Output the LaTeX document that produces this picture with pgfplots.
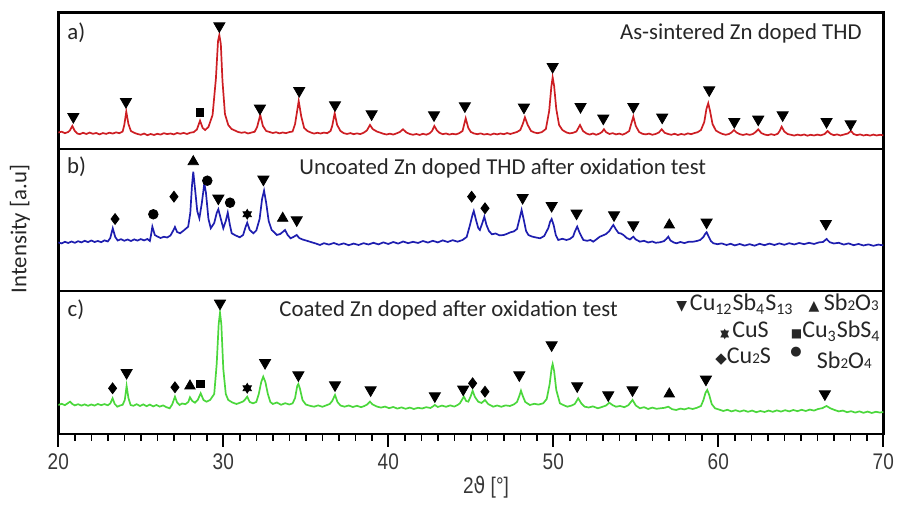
\documentclass[border=0pt]{standalone}
\usepackage{fontspec}
\usepackage{pgfplots}
\pgfplotsset{compat=1.18}
\setmainfont{Carlito}
\newfontfamily\tickfont[FakeStretch=0.84]{Liberation Sans}
\newfontfamily\dejavu{DejaVu Sans}
\newfontfamily\dejavucond[FakeStretch=0.84]{DejaVu Sans}
\definecolor{xred}{RGB}{205,30,35}
\definecolor{xblue}{RGB}{30,30,175}
\definecolor{xgreen}{RGB}{75,215,60}
\definecolor{ticklab}{RGB}{55,55,55}
\newcommand{\sm}[1]{{\fontsize{7.5}{8}\selectfont #1}}
\newcommand{\hexstar}{{\dejavu\fontsize{5.8}{6}\selectfont\rlap{\raisebox{0.7pt}{▲}}\raisebox{-0.7pt}{▼}}}
\pgfplotsset{
  panel/.style={scale only axis, width=412.5pt, xmin=20, xmax=70, ymin=0,
    anchor=south west, axis line style={line width=1.2pt}, ytick=\empty, xtick=\empty},
  tdown/.style={only marks, mark=triangle*, mark size=3.2pt, mark options={rotate=180, fill=black, draw=black}},
  tup/.style={only marks, mark=triangle*, mark size=3.0pt, mark options={fill=black, draw=black}},
  dia/.style={only marks, mark=diamond*, mark size=2.7pt, mark options={fill=black, draw=black}},
  circ/.style={only marks, mark=*, mark size=2.4pt, mark options={fill=black, draw=black}},
  sq/.style={only marks, mark=square*, mark size=1.9pt, mark options={fill=black, draw=black}},
  stA/.style={only marks, mark=triangle*, mark size=2.4pt, mark options={fill=black, draw=black}},
  stB/.style={only marks, mark=triangle*, mark size=2.4pt, mark options={rotate=180, fill=black, draw=black}},
}
\begin{document}
\begin{tikzpicture}
\path[use as bounding box] (0,0) rectangle (450pt,253pt);
% ---------- panel a ----------
\begin{axis}[panel, at={(29.15pt,178.5pt)}, height=68.15pt, ymax=136.3]
\addplot[xred, line width=0.85pt] table {
20.0 16.5
20.2 17.3
20.4 15.8
20.6 17.0
20.7 18.5
20.85 23
21.0 18.0
21.15 15.5
21.3 14.8
21.5 16.2
21.7 15.0
21.9 16.4
22.1 15.2
22.3 16.0
22.5 14.6
22.7 15.9
22.9 15.1
23.1 16.3
23.3 15.4
23.5 16.6
23.7 15.8
23.9 17.5
24.0 24
24.12 37.3
24.25 25
24.4 18
24.6 16.2
24.8 15.0
25.0 14.2
25.2 15.4
25.4 13.8
25.6 15.0
25.8 14.0
26.0 15.2
26.2 14.4
26.4 15.8
26.6 14.9
26.8 15.5
27.0 14.6
27.2 16.0
27.4 15.2
27.6 16.1
27.8 15.0
28.0 16.3
28.2 16.8
28.4 19.5
28.59 28.3
28.75 21
28.9 19
29.1 22
29.35 34
29.55 70
29.68 108
29.76 114
29.85 105
29.95 68
30.1 35
30.3 24
30.5 20
30.7 18.5
30.9 17.0
31.1 16.2
31.3 16.8
31.5 15.5
31.7 16.4
31.9 17.2
32.05 22
32.24 34
32.4 23
32.6 18
32.8 17.0
33.0 16.0
33.2 16.8
33.4 15.6
33.6 16.5
33.8 15.8
34.0 16.9
34.2 17.5
34.35 25
34.57 48
34.72 33
34.9 21
35.1 18
35.3 16.5
35.5 15.4
35.7 16.2
35.9 15.5
36.1 16.4
36.3 15.8
36.5 18
36.6 23
36.75 35.7
36.9 24
37.1 18
37.3 15.8
37.5 15.0
37.7 15.9
37.9 14.8
38.1 15.6
38.3 14.9
38.5 16.2
38.7 18.5
38.89 24
39.05 20
39.3 17.5
39.5 16.4
39.7 15.2
39.9 14.5
40.1 15.3
40.3 14.4
40.5 15.6
40.7 17.0
40.89 19.7
41.1 16.5
41.3 15.0
41.5 14.2
41.7 15.0
41.9 14.0
42.1 15.2
42.3 14.3
42.5 15.6
42.65 18
42.79 23
42.95 18.5
43.1 16.2
43.3 14.8
43.5 15.5
43.7 14.4
43.9 15.2
44.1 14.6
44.3 15.8
44.5 18
44.69 30.7
44.85 21
45.0 17
45.2 15.5
45.4 14.8
45.6 15.6
45.8 14.5
46.0 15.0
46.2 14.2
46.4 15.4
46.6 14.6
46.8 15.5
47.0 14.8
47.2 15.9
47.4 15.0
47.6 16.0
47.8 17.0
48.0 19
48.15 25
48.28 31.7
48.45 24
48.65 18
48.85 16.5
49.05 15.8
49.3 16.8
49.55 20
49.75 38
49.88 62
49.96 71.7
50.05 63
50.18 40
50.35 24
50.55 19
50.8 16.5
51.0 15.6
51.2 16.2
51.4 17.5
51.62 24
51.8 18
52.0 15.6
52.2 14.4
52.4 15.5
52.6 14.2
52.8 15.4
52.95 17
53.07 19.7
53.2 16.8
53.4 15.0
53.6 15.8
53.8 14.6
54.0 15.4
54.2 14.3
54.4 15.8
54.6 18
54.72 25
54.85 32.3
55.0 23
55.2 17
55.4 15.2
55.6 14.6
55.8 15.4
56.0 14.2
56.2 15.0
56.4 16.5
56.57 19.7
56.75 16.2
56.95 15.0
57.15 14.2
57.35 15.2
57.55 14.0
57.75 15.0
57.95 14.3
58.15 15.6
58.35 14.8
58.55 15.9
58.75 16.8
58.95 19
59.15 27
59.28 40
59.39 45.7
59.5 38
59.65 25
59.85 18.5
60.05 16.5
60.25 15.0
60.45 14.2
60.65 15.0
60.8 16.5
60.95 19
61.1 16.5
61.3 14.8
61.5 14.0
61.7 14.9
61.9 14.1
62.1 15.0
62.25 16.8
62.42 19.7
62.6 16.0
62.8 14.5
63.0 13.8
63.2 14.8
63.4 14.0
63.6 15.2
63.72 18
63.84 22.3
64.0 17.5
64.2 15.0
64.4 14.2
64.6 13.4
64.8 14.4
65.0 13.6
65.2 14.5
65.4 13.3
65.6 14.2
65.8 13.5
66.0 14.4
66.2 13.6
66.45 15.0
66.62 18
66.8 15.2
67.0 13.8
67.2 14.6
67.4 13.5
67.6 14.4
67.85 15.5
68.04 18
68.2 15.0
68.4 13.8
68.6 14.6
68.8 13.5
69.0 14.2
69.2 13.4
69.4 14.4
69.6 13.5
69.8 14.2
70.0 13.6
};
\addplot[tdown] coordinates {(20.91,32.3) (24.1,47.3) (29.76,123) (32.22,40.7) (34.6,58.3) (36.77,44) (38.99,35) (42.77,34) (44.64,43) (48.22,41.7) (49.96,82.3) (51.65,42.3) (53.03,30.7) (54.85,42.3) (56.6,31.7) (59.45,59) (60.97,27.3) (62.42,29.7) (63.9,34) (66.56,27.3) (68.02,25)};
\addplot[sq] coordinates {(28.59,36.3)};
\end{axis}
% ---------- panel b ----------
\begin{axis}[panel, at={(29.15pt,107.5pt)}, height=71pt, ymax=142]
\addplot[xblue, line width=0.85pt] table {
20.0 48.5
20.2 47.6
20.4 49.2
20.6 48.0
20.8 49.5
21.0 48.2
21.2 49.8
21.4 48.6
21.6 50.2
21.8 48.9
22.0 50.5
22.2 49.0
22.4 50.0
22.6 48.8
22.8 50.6
23.0 49.5
23.15 53
23.3 62.7
23.45 54
23.6 50.5
23.8 51.8
24.0 50.2
24.2 51.5
24.4 50.0
24.6 51.6
24.8 50.4
25.0 51.9
25.2 50.6
25.4 52.0
25.55 50.0
25.62 56
25.7 64.3
25.85 56
26.0 54.5
26.2 53.0
26.4 54.2
26.6 53.5
26.8 55.5
26.95 60
27.07 64
27.2 59
27.38 57.7
27.6 60.5
27.87 64.3
28.0 78
28.1 105
28.18 119.3
28.3 100
28.42 80
28.55 72.7
28.7 88
28.85 107.7
28.95 98
29.1 72
29.24 62.7
29.45 68
29.6 78
29.7 81.7
29.82 74
30.0 62.7
30.15 70
30.27 78.3
30.4 66
30.51 57.7
30.75 55.5
31.0 53.7
31.2 56
31.35 64
31.45 68.3
31.6 61
31.82 57.7
32.0 60.5
32.2 72
32.35 92
32.47 100.3
32.6 88
32.75 70
32.93 61
33.1 58.5
33.24 56
33.45 57
33.6 59
33.74 61
33.9 56
34.08 52.7
34.25 54
34.45 56
34.6 53
34.8 51.5
35.05 50.3
35.3 49.0
35.6 47.5
35.86 46.0
36.1 47.8
36.4 46.4
36.7 48.0
37.0 46.2
37.3 47.6
37.6 45.8
37.9 47.4
38.2 46.0
38.5 47.8
38.8 46.5
39.1 48.2
39.4 46.6
39.7 48.6
40.0 47.0
40.3 49.0
40.6 47.4
40.9 49.5
41.2 47.8
41.5 49.2
41.8 48.0
42.1 50.0
42.4 48.4
42.7 50.2
43.0 48.6
43.3 50.6
43.6 49.0
43.9 50.8
44.2 49.3
44.5 51.0
44.75 54
44.95 66
45.1 76
45.18 80
45.3 72
45.45 63
45.55 61
45.7 68
45.82 74.3
45.95 66
46.1 60
46.28 56.7
46.5 57.5
46.75 55.6
47.0 56.0
47.2 57.2
47.4 58.7
47.6 59.5
47.8 62
47.95 72
48.08 81
48.2 72
48.35 60
48.49 56
48.7 54.5
48.95 53.5
49.2 52.7
49.45 55
49.7 63
49.8 69
49.9 72
50.02 66
50.15 56
50.3 51
50.55 52.2
50.8 51.0
51.0 52.0
51.2 54.5
51.32 60
51.45 64.3
51.6 58
51.82 51
52.05 50.2
52.25 51.0
52.42 49.3
52.6 51.5
52.82 54.3
53.0 55.5
53.2 57
53.4 60
53.55 64
53.64 66
53.78 62
53.95 58
54.1 57.5
54.25 56
54.45 53
54.65 51.5
54.75 53
54.85 54.3
55.0 51.5
55.25 49.3
55.5 50.2
55.75 48.5
56.0 49.5
56.2 48.2
56.46 48.7
56.7 49.8
56.85 52
56.97 54.3
57.1 50.5
57.3 48.5
57.47 47.7
57.7 49.0
57.95 47.9
58.2 49.2
58.48 49.3
58.7 50.0
58.9 51.0
59.1 54
59.2 57
59.29 58.7
59.4 55
59.55 50
59.7 47.7
59.95 46.8
60.2 47.6
60.5 46.0
60.75 47.2
61.0 45.6
61.3 47.0
61.6 45.4
61.9 46.8
62.2 45.3
62.5 47.2
62.8 45.8
63.1 47.4
63.4 46.0
63.7 47.6
64.0 46.2
64.3 47.8
64.6 46.5
64.9 48.0
65.2 46.8
65.5 48.2
65.8 47.0
66.1 48.6
66.35 49.0
66.56 52.0
66.75 48.8
67.0 47.5
67.3 48.2
67.6 46.4
67.9 47.6
68.2 45.8
68.5 47.0
68.8 45.5
69.1 46.6
69.4 45.2
69.7 46.4
70.0 45.6
};
\addplot[dia] coordinates {(23.44,72) (27.01,94.3) (45.05,94.3) (45.86,82.7)};
\addplot[circ] coordinates {(25.76,76.7) (29.03,110.3) (30.41,88.3)};
\addplot[tup] coordinates {(28.18,129.3) (33.6,72.7) (57.03,66)};
\addplot[tdown] coordinates {(29.7,92.7) (32.43,111.7) (34.45,71) (48.14,93.3) (49.9,85.3) (51.41,77.7) (53.68,76) (54.85,66) (59.29,68.7) (66.52,67.3)};
\addplot[stA] coordinates {(31.45,76.7)};
\addplot[stB] coordinates {(31.45,76.7)};
\end{axis}
% ---------- panel c ----------
\begin{axis}[panel, at={(29.15pt,36pt)}, height=71.5pt, ymax=143,
  xtick={20,30,...,70}, minor x tick num=9, xtick pos=left, tick align=outside,
  major tick length=6.3pt, minor tick length=3.5pt,
  every tick/.style={black, line width=1pt},
  minor tick style={black, line width=0.8pt},
  /pgf/number format/assume math mode=true,
  xticklabel style={font=\tickfont\fontsize{11.3}{13}\selectfont, text=ticklab}]
\addplot[xgreen, line width=0.85pt] table {
20.0 29.0
20.2 30.2
20.4 28.8
20.55 30.5
20.71 32.3
20.85 30.0
21.0 28.6
21.2 29.8
21.4 28.4
21.6 29.6
21.8 28.2
22.0 29.5
22.2 28.4
22.4 30.0
22.6 28.8
22.8 29.9
23.0 28.7
23.15 30.5
23.29 35.7
23.42 30.0
23.58 27.3
23.75 28.5
23.9 29.2
24.03 34
24.14 48
24.25 36
24.38 29
24.55 28.2
24.75 29.8
24.95 28.0
25.15 29.6
25.35 27.8
25.55 29.4
25.75 27.6
25.95 29.0
26.15 27.4
26.35 28.6
26.55 26.8
26.75 25.7
26.9 29.5
27.07 37.3
27.2 31.5
27.35 29
27.5 30.5
27.7 29.8
27.88 32
27.98 36.7
28.12 33
28.28 31.3
28.45 34
28.63 40.7
28.8 34
28.98 32.3
29.2 34
29.45 40
29.6 70
29.72 110
29.8 121.3
29.88 110
30.0 65
30.15 40
30.3 34
30.55 31.5
30.8 30.0
31.0 31.2
31.2 32.5
31.32 34.5
31.45 37.3
31.6 32
31.8 30.7
32.0 32
32.15 40
32.3 52
32.42 57.3
32.55 52
32.7 40
32.85 32
33.0 30
33.25 31.5
33.5 29.2
33.75 30.8
34.0 29.5
34.2 30.6
34.35 36
34.48 48
34.55 50
34.65 45
34.8 34
35.0 29.5
35.25 28.2
35.5 27.3
35.75 28.6
36.0 27.2
36.2 28.4
36.45 30
36.6 33
36.77 39
36.92 32
37.1 28.5
37.35 27.3
37.6 28.5
37.85 27.0
38.1 28.2
38.35 26.8
38.55 28.0
38.72 29.5
38.89 32.3
39.05 29.5
39.3 27.5
39.55 26.4
39.8 27.4
40.05 25.8
40.3 27.0
40.55 25.4
40.8 26.6
41.05 25.2
41.3 26.4
41.55 25.0
41.8 26.2
42.05 25.5
42.3 26.8
42.55 26.0
42.7 27.5
42.82 29
43.0 27.0
43.25 28.4
43.5 27.2
43.75 28.6
44.0 27.4
44.2 29.0
44.34 30.7
44.46 34
44.58 37.3
44.72 33
44.85 32.3
45.0 38
45.11 43.3
45.25 37
45.45 32.3
45.65 31
45.86 34
46.05 30
46.36 27.3
46.6 28.5
46.85 27.2
47.1 28.6
47.37 28.0
47.6 29.5
47.8 32
47.94 38
48.04 43.3
48.15 38
48.3 32
48.58 29.0
48.85 30.2
49.1 29.4
49.39 30.7
49.6 35
49.78 50
49.9 66
49.96 70
50.05 63
50.18 44
50.4 30.7
50.6 29.0
50.85 27.3
51.1 28.4
51.3 30
51.51 35.7
51.7 30.5
51.9 27.3
52.15 26.5
52.4 27.6
52.7 25.7
52.95 27.0
53.2 28.5
53.39 31.3
53.6 28.8
53.8 27.3
54.05 28.0
54.3 26.8
54.55 28.8
54.8 34
55.0 28.5
55.25 25.7
55.5 26.8
55.75 25.0
56.0 26.4
56.25 25.2
56.5 25.7
56.75 26.2
56.97 27.3
57.2 24.8
57.45 24.0
57.7 25.4
57.95 24.6
58.2 25.9
58.45 25.0
58.7 26.2
58.95 28
59.1 34
59.22 41
59.33 44
59.45 39
59.6 30
59.8 25.7
60.05 24.4
60.3 23.0
60.55 24.2
60.8 22.6
61.05 23.8
61.3 22.4
61.55 23.6
61.8 22.2
62.05 23.4
62.3 21.8
62.55 23.0
62.8 22.0
63.05 23.4
63.3 22.2
63.55 23.6
63.8 22.4
64.05 23.8
64.3 22.6
64.55 24.0
64.8 22.8
65.05 24.2
65.3 23.0
65.55 24.4
65.8 23.4
66.05 25.0
66.3 25.8
66.56 28
66.8 25.6
67.05 24.0
67.3 22.6
67.55 23.4
67.8 21.8
68.05 22.8
68.3 21.4
68.55 22.6
68.8 21.2
69.05 22.4
69.3 21.0
69.55 22.2
69.8 21.4
70.0 22.0
};
\addplot[dia] coordinates {(23.29,45.7) (27.07,46.7) (45.11,50.7) (45.86,42.3)};
\addplot[tdown] coordinates {(24.14,61.3) (29.8,130.7) (32.53,71.3) (34.55,59) (36.77,49) (38.93,44) (42.82,38) (44.54,44.7) (47.94,59) (49.9,89) (51.45,48) (53.33,39) (54.8,44) (59.25,54.7) (66.46,40)};
\addplot[tup] coordinates {(27.98,48) (57.03,40)};
\addplot[sq] coordinates {(28.63,50)};
\addplot[stA] coordinates {(31.45,45.7)};
\addplot[stB] coordinates {(31.45,45.7)};
\end{axis}
% ---------- texts (pixel coordinates) ----------
\begin{scope}[x=0.5pt, y=-0.5pt, shift={(0pt,253pt)}]
\tikzset{ttl/.style={inner sep=0pt, font=\fontsize{11.4}{13}\selectfont, text=black!85}}
\node[ttl, anchor=base west] at (67,40) {a)};
\node[ttl, anchor=base east] at (862,39.5) {As-sintered Zn doped THD};
\node[ttl, anchor=base west] at (66.7,173.5) {b)};
\node[ttl, anchor=base west] at (299,174.3) {Uncoated Zn doped THD after oxidation test};
\node[ttl, anchor=base west] at (67.3,316.7) {c)};
\node[ttl, anchor=base west] at (279,316.7) {Coated Zn doped after oxidation test};
% legend
\tikzset{lg/.style={inner sep=0pt, font=\fontsize{12}{14}\selectfont, text=black!85}}
\node[lg, anchor=base west] at (676,310.5) {{\dejavu\fontsize{7}{7}\selectfont ▼}\hspace{1.4pt}Cu\textsubscript{12}Sb\textsubscript{4}S\textsubscript{13}};
\node[lg, anchor=base east] at (879,310.5) {{\dejavu\fontsize{7}{7}\selectfont ▲}\hspace{2.2pt}Sb\sm{2}O\sm{3}};
\node[lg, anchor=base west] at (720,337.5) {\hexstar\hspace{1.5pt}CuS};
\node[lg, anchor=base east] at (881,337.5) {{\dejavu\fontsize{6}{7}\selectfont ■}Cu\textsubscript{3}SbS\textsubscript{4}};
\node[lg, anchor=base west] at (715,363.5) {{\dejavu\fontsize{7.5}{7}\selectfont ◆}Cu\sm{2}S};
\node[lg, anchor=base west] at (790,356) {{\dejavu\fontsize{6.5}{7}\selectfont ●}};
\node[lg, anchor=base east] at (872,368.8) {Sb\sm{2}O\sm{4}};
% axis labels
\node[inner sep=0pt, rotate=90, font=\fontsize{11.4}{13}\selectfont, text=black!85] at (20,229) {Intensity [a.u]};
\node[inner sep=0pt, font=\tickfont\fontsize{11.3}{13}\selectfont, text=ticklab] at (486,487) {2{\dejavucond ϑ} [°]};
\end{scope}
\end{tikzpicture}
\end{document}
